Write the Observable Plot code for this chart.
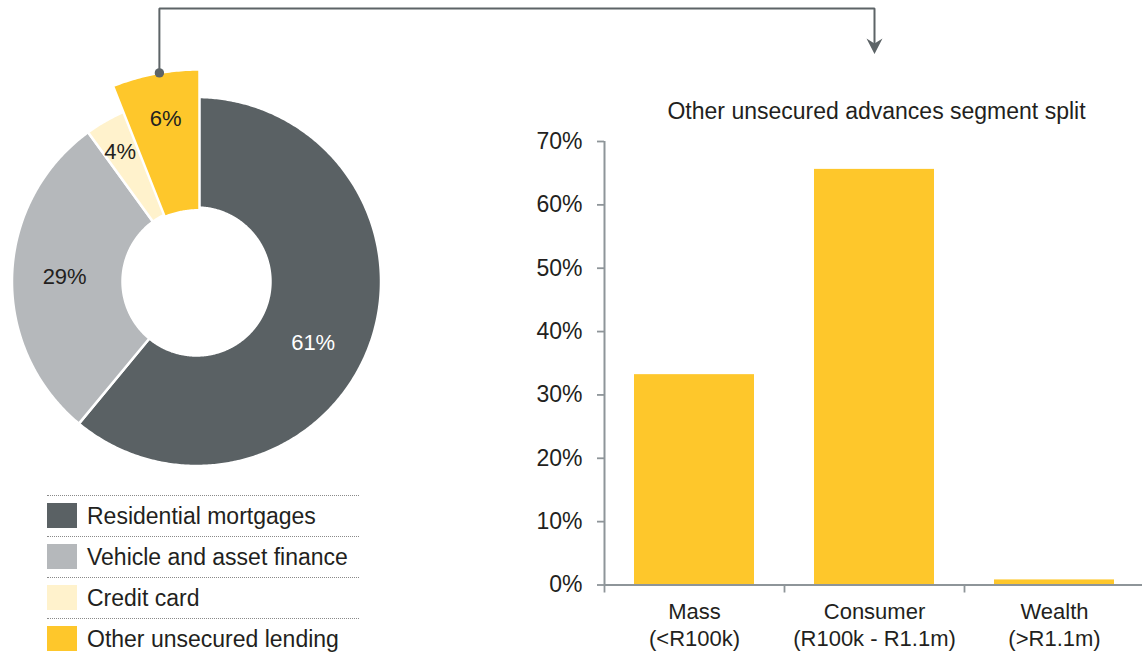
<!DOCTYPE html>
<html><head><meta charset="utf-8">
<script src="https://cdn.jsdelivr.net/npm/d3@7"></script>
<script src="https://cdn.jsdelivr.net/npm/@observablehq/plot@0.6"></script>
<style>
body{margin:0;background:#fff;font-family:"Liberation Sans",Arial,sans-serif;color:#231f20;}
#root{position:relative;width:1142px;height:654px;overflow:hidden;background:#fff;}
.legend{position:absolute;left:47px;top:495px;width:312px;}
.row{position:relative;height:40px;border-top:1px dotted #8a8a8a;}
.sw{position:absolute;left:0;top:7px;width:30px;height:25px;}
.lab{position:absolute;left:40px;top:7px;font-size:23px;line-height:27px;white-space:nowrap;color:#231f20;}
</style></head>
<body><div id="root"></div>
<script>
// ---------- data ----------
const segments = ["Residential mortgages", "Vehicle and asset finance", "Credit card", "Other unsecured lending"];
const segmentShares = [61, 29, 4, 6];
const segmentColors = ["#5a6164", "#b5b8bb", "#fff2cc", "#fec72b"];
const highlighted = "Other unsecured lending";

const categories = ["Mass", "Consumer", "Wealth"];
const categoryRanges = ["(<R100k)", "(R100k - R1.1m)", "(>R1.1m)"];
const splitValues = [33.2, 65.6, 0.8];
const yTicks = [0, 10, 20, 30, 40, 50, 60, 70];
const barTitle = "Other unsecured advances segment split";

// ---------- style constants ----------
const FONT = '"Liberation Sans", Arial, sans-serif';
const TEXT = "#231f20";
const AXIS = "#8e9599";
const DARK = "#5d6467";
const BAR = "#fec72b";

const root = document.getElementById("root");
function place(el, left, top) {
  el.style.position = "absolute";
  el.style.left = left + "px";
  el.style.top = top + "px";
  root.appendChild(el);
  return el;
}

// ---------- donut ----------
const W1 = 400, H1 = 480, CX = 196, CY = 281, R = 184.5, INNER = 0.401;
const EXPLODE = {dx: 3 / R, dy: -23 / R, k: 1.274};
const total = d3.sum(segmentShares);
let acc = 0;
const slices = segments.map((name, i) => {
  const a0 = acc / total * 2 * Math.PI;
  acc += segmentShares[i];
  const a1 = acc / total * 2 * Math.PI;
  const am = (a0 + a1) / 2;
  const ex = name === highlighted;
  const ox = ex ? EXPLODE.dx : 0, oy = ex ? EXPLODE.dy : 0, k = ex ? EXPLODE.k : 1;
  const n = Math.max(8, Math.ceil((a1 - a0) / 0.01));
  const pts = [];
  for (let j = 0; j <= n; j++) { const a = a0 + (a1 - a0) * j / n; pts.push({x: ox + k * Math.sin(a), y: oy + k * Math.cos(a)}); }
  for (let j = n; j >= 0; j--) { const a = a0 + (a1 - a0) * j / n; pts.push({x: ox + k * INNER * Math.sin(a), y: oy + k * INNER * Math.cos(a)}); }
  // label radius (fraction of R); large slices sit mid-ring, small ones further out
  const lr = ex ? 0.895 : (segmentShares[i] < 5 ? 0.815 : 0.715);
  const la = am + (segmentShares[i] > 50 ? 0.14 : 0) - (segmentShares[i] < 5 ? 0.03 : 0);
  return {
    name, share: segmentShares[i], color: segmentColors[i], pts, ex,
    lx: lr * Math.sin(la), ly: lr * Math.cos(la),
    label: segmentShares[i] + "%",
    light: i === 0,
    ax: ox + k * Math.sin(am + 0.017), ay: oy + k * Math.cos(am + 0.017)
  };
});

const donut = Plot.plot({
  width: W1, height: H1, margin: 0,
  x: {domain: [-CX / R, (W1 - CX) / R], range: [0, W1], axis: null},
  y: {domain: [-(H1 - CY) / R, CY / R], range: [H1, 0], axis: null},
  style: {fontFamily: FONT, fontSize: "22px", background: "transparent", color: TEXT},
  marks: [
    ...slices.map(s => Plot.line(s.pts, {x: "x", y: "y", fill: s.color, stroke: "#ffffff", strokeWidth: 2.5, curve: "linear-closed"})),
    Plot.text(slices.filter(s => s.light), {x: "lx", y: "ly", text: "label", fill: "#ffffff", fontSize: 22}),
    Plot.text(slices.filter(s => !s.light), {x: "lx", y: "ly", text: "label", fill: TEXT, fontSize: 22})
  ]
});
place(donut, 0, 0);

// ---------- legend ----------
const legend = document.createElement("div");
legend.className = "legend";
segments.forEach((name, i) => {
  const row = document.createElement("div");
  row.className = "row";
  const sw = document.createElement("div");
  sw.className = "sw";
  sw.style.background = segmentColors[i];
  const lab = document.createElement("div");
  lab.className = "lab";
  lab.textContent = name;
  row.appendChild(sw); row.appendChild(lab);
  legend.appendChild(row);
});
root.appendChild(legend);

// ---------- bar chart ----------
const BL = 520, BT = 80, BW = 624, BH = 574;
const bm = {left: 84, right: 0, top: 61, bottom: 69.5};
const step = (BW - bm.left - bm.right) / categories.length;
const bars = categories.map((c, i) => ({cat: c, value: splitValues[i], label: c + "\n" + categoryRanges[i]}));

const barPlot = Plot.plot({
  width: BW, height: BH,
  marginLeft: bm.left, marginRight: bm.right, marginTop: bm.top, marginBottom: bm.bottom,
  style: {fontFamily: FONT, fontSize: "22px", background: "transparent", color: TEXT, overflow: "visible"},
  x: {domain: categories, paddingInner: 1 / 3, paddingOuter: 1 / 6, axis: null},
  y: {domain: [0, 70]},
  marks: [
    Plot.barY(bars, {x: "cat", y: "value", fill: BAR}),
    Plot.ruleY([0], {stroke: AXIS, strokeWidth: 2}),
    Plot.ruleX([categories[0]], {x: d => d, dx: -step / 2, y1: () => 0, y2: () => 70, stroke: AXIS, strokeWidth: 2}),
    Plot.ruleX(categories, {x: d => d, dx: -step / 2, y1: () => 0, y2: () => 0, insetBottom: -8, stroke: AXIS, strokeWidth: 1.8}),
    Plot.axisY(yTicks, {tickSize: 7, tickPadding: 15, tickFormat: d => d + "%", stroke: AXIS, strokeWidth: 1.8, fill: TEXT, fontSize: 23, label: null}),
    Plot.text(bars, {x: "cat", text: "label", frameAnchor: "bottom", lineAnchor: "middle", dy: 39, lineHeight: 1.2, fontSize: 22, fill: TEXT}),
    Plot.text([barTitle], {text: d => d, frameAnchor: "top", lineAnchor: "middle", dy: -29.5, dx: 2, fontSize: 23, fill: TEXT})
  ]
});
place(barPlot, BL, BT);

// ---------- connector ----------
const hs = slices.find(s => s.ex);
const start = {x: CX + hs.ax * R, y: CY - hs.ay * R};
const LINE_TOP = 8, ARROW_Y = 45.5;
const endX = BL + bm.left + (BW - bm.left - bm.right) / 2;
const conn = [start, {x: start.x, y: LINE_TOP}, {x: endX, y: LINE_TOP}, {x: endX, y: ARROW_Y}];
const arrowSymbol = {
  draw(context, size) {
    const r = Math.sqrt(size / Math.PI);
    context.moveTo(0, r);
    context.lineTo(-r, -r * 0.95);
    context.lineTo(0, -r * 0.3);
    context.lineTo(r, -r * 0.95);
    context.closePath();
  }
};
const overlay = Plot.plot({
  width: 1142, height: 654, margin: 0,
  x: {domain: [0, 1142], range: [0, 1142], axis: null},
  y: {domain: [0, 654], range: [0, 654], axis: null},
  style: {background: "transparent", pointerEvents: "none"},
  marks: [
    Plot.line(conn, {x: "x", y: "y", stroke: DARK, strokeWidth: 2, strokeLinejoin: "miter", curve: "linear"}),
    Plot.dot([start], {x: "x", y: "y", r: 4.7, fill: DARK, stroke: "none"}),
    Plot.dot([{x: endX, y: ARROW_Y}], {x: "x", y: "y", r: 8, symbol: arrowSymbol, fill: DARK, stroke: "none"})
  ]
});
place(overlay, 0, 0);
</script>
</body></html>
